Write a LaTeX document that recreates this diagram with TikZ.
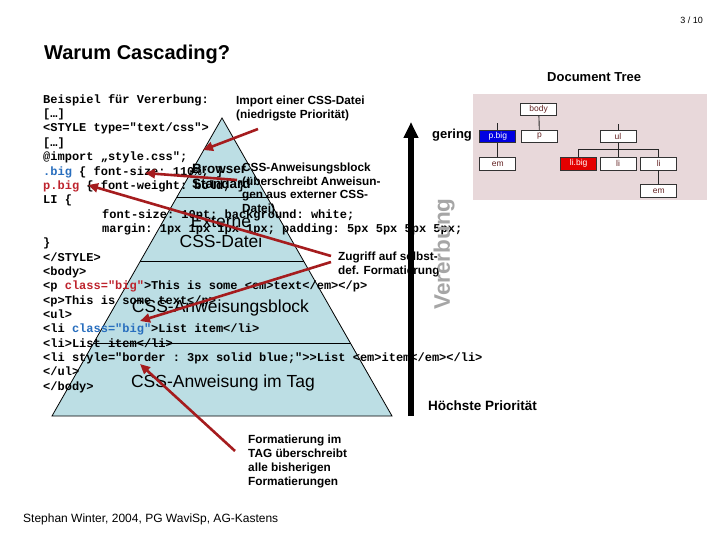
\documentclass[tikz,border=0pt]{standalone}
\usepackage{fontspec}
\setmainfont{Liberation Sans}
\newfontfamily\codefont{Liberation Mono}
\usetikzlibrary{arrows.meta,positioning}

\definecolor{pyrblue}{RGB}{188,222,228}
\definecolor{treebg}{RGB}{232,216,218}
\definecolor{arrowred}{RGB}{165,28,30}
\definecolor{codeblue}{RGB}{40,110,190}
\definecolor{codered}{RGB}{190,35,45}
\definecolor{treetext}{RGB}{100,35,35}
\definecolor{treeblue}{RGB}{0,0,225}
\definecolor{treered}{RGB}{228,0,0}

\tikzset{
  code/.style={anchor=base west, inner sep=0pt, font=\codefont\bfseries\frenchspacing\fontsize{12}{14}\selectfont},
  anno/.style={anchor=north west, inner sep=0pt, align=left, font=\bfseries\fontsize{11.8}{13.8}\selectfont},
  layer/.style={inner sep=0pt, font=\fontsize{17.5}{20}\selectfont},
  treebox/.style={draw=black!80, line width=0.8pt, fill=white, minimum width=36pt, minimum height=12.3pt, inner sep=0pt, font=\fontsize{8.5}{9}\selectfont, text=treetext},
  treeline/.style={draw=black!85, line width=0.9pt},
  pointer/.style={draw=arrowred, line width=2.6pt, -{Triangle[width=9pt,length=10pt]}},
}

\begin{document}
\begin{tikzpicture}[x=1pt,y=-1pt]
\useasboundingbox[fill=white] (0,0) rectangle (720,540);

% heading
\node[anchor=base west, inner sep=0pt, font=\bfseries\fontsize{20}{24}\selectfont] (title) at (44,60) {Warum Cascading?};
\node[anchor=base east, inner sep=0pt, font=\fontsize{9}{11}\selectfont] (page) at (703,24) {3 / 10};

% pyramid
\coordinate (apex) at (222,118);
\coordinate (bl) at (52,416);
\coordinate (br) at (392,416);
\fill[pyrblue] (apex) -- (br) -- (bl) -- cycle;
\begin{scope}
\clip (apex) -- (br) -- (bl) -- cycle;
\foreach \ly in {197,261,343}
  \draw[line width=0.8pt] (0,\ly) -- (720,\ly);
\end{scope}
\draw[line width=0.8pt] (apex) -- (br) -- (bl) -- cycle;

\node[anchor=north west, inner sep=0pt, align=left, font=\bfseries\fontsize{13.5}{15}\selectfont] (browser) at (192,164.5) {Browser\\Standard};
\node[layer, anchor=north, align=center] (extern) at (221,215.5) {Externe\\CSS-Datei};
\node[layer, anchor=base] (block) at (220.5,312) {CSS-Anweisungsblock};
\node[layer, anchor=base] (intag) at (223,387) {CSS-Anweisung im Tag};

% document tree
\node[anchor=base west, inner sep=0pt, font=\bfseries\fontsize{13}{15}\selectfont] (doctree) at (547,82) {Document Tree};
\fill[treebg] (473,94) rectangle (707,200);
\node[treebox] (body) at (538.7,109.2) {body};
\node[treebox, fill=treeblue, text=white] (pbig) at (497.8,136.2) {p.big};
\node[treebox] (p) at (539.5,136.2) {p};
\node[treebox] (ul) at (618,136.2) {ul};
\node[treebox] (em1) at (497.8,163.8) {em};
\node[treebox, fill=treered, text=white] (libig) at (578.7,163.8) {li.big};
\node[treebox] (li2) at (618,163.8) {li};
\node[treebox] (li3) at (658.7,163.8) {li};
\node[treebox] (em2) at (658.7,191) {em};
\coordinate (pbigstub) at (497.8,123);
\coordinate (ulstub) at (618,124.5);
\coordinate (fork) at (618,149.5);
\draw[treeline] (body) -- (p);
\draw[treeline] (pbig) -- (pbigstub);
\draw[treeline] (pbig) -- (em1);
\draw[treeline] (ul) -- (ulstub);
\draw[treeline] (ul) -- (li2);
\draw[treeline] (libig.north) |- (fork) -| (li3.north);
\draw[treeline] (li3) -- (em2);

% code
\node[code] (cl1) at (43,103.3) {Beispiel für Vererbung:};
\node[code] (cl2) at (43,117.65) {[…]};
\node[code] (cl3) at (43,132) {<STYLE type="text/css">};
\node[code] (cl4) at (43,146.35) {[…]};
\node[code] (cl5) at (43,160.7) {@import „style.css";};
\node[code] (cl6) at (43,175.05) {\textcolor{codeblue}{.big} \{ font-size: 110\%; \}};
\node[code] (cl7) at (43,189.4) {\textcolor{codered}{p.big} \{ font-weight: bold; \}};
\node[code] (cl8) at (43,203.75) {LI \{};
\node[code] (cl9) at (102,218.1) {font-size: 10pt; background: white;};
\node[code] (cl10) at (102,232.45) {margin: 1px 1px 1px 1px; padding: 5px 5px 5px 5px;};
\node[code] (cl11) at (43,246.8) {\}};
\node[code] (cl12) at (43,261.15) {</STYLE>};
\node[code] (cl13) at (43,275.5) {<body>};
\node[code] (cl14) at (43,289.85) {<p \textcolor{codered}{class="big"}>This is some <em>text</em></p>};
\node[code] (cl15) at (43,304.2) {<p>This is some text</p>};
\node[code] (cl16) at (43,318.55) {<ul>};
\node[code] (cl17) at (43,332.9) {<li \textcolor{codeblue}{class="big"}>List item</li>};
\node[code] (cl18) at (43,347.25) {<li>List item</li>};
\node[code] (cl19) at (43,361.6) {<li style="border : 3px solid blue;">>List <em>item</em></li>};
\node[code] (cl20) at (43,375.95) {</ul>};
\node[code] (cl21) at (43,390.3) {</body>};

% annotations
\node[anno] (imp) at (236,96) {Import einer CSS-Datei\\(niedrigste Priorität)};
\node[anno] (blk) at (242,162.5) {CSS-Anweisungsblock\\(überschreibt Anweisun-\\gen aus externer CSS-\\Datei)};
\node[anno] (zug) at (338,251.5) {Zugriff auf selbst-\\def. Formatierung};
\node[anno] (fmt) at (248,435) {Formatierung im\\TAG überschreibt\\alle bisherigen\\Formatierungen};
\node[anchor=base west, inner sep=0pt, font=\bfseries\fontsize{13}{15}\selectfont] (gering) at (432,139) {gering};
\node[anchor=base west, inner sep=0pt, font=\bfseries\fontsize{13.5}{15}\selectfont] (hoch) at (428,410) {Höchste Priorität};
\node[rotate=90, inner sep=0pt, text=black!35, font=\bfseries\fontsize{22.5}{24}\selectfont] (vererb) at (444,254) {Vererbung};

% priority arrow
\coordinate (low) at (411,416);
\coordinate (high) at (411,122);
\draw[line width=5.5pt, -{Triangle[width=14pt,length=16pt]}] (low) -- (high);

% red pointers
\coordinate (a1s) at (258,129);
\coordinate (a1e) at (203,150);
\coordinate (a2s) at (237,180);
\coordinate (a2e) at (145,173);
\coordinate (a3s) at (331,256);
\coordinate (a3e) at (88,185);
\coordinate (a4s) at (331,262);
\coordinate (a4e) at (140,321);
\coordinate (a5s) at (235,451);
\coordinate (a5e) at (140,364);
\draw[pointer] (a1s) -- (a1e);
\draw[pointer] (a2s) -- (a2e);
\draw[pointer] (a3s) -- (a3e);
\draw[pointer] (a4s) -- (a4e);
\draw[pointer] (a5s) -- (a5e);

% footer
\node[anchor=base west, inner sep=0pt, font=\fontsize{12}{13}\selectfont] (footer) at (23,522) {Stephan Winter, 2004, PG WaviSp, AG-Kastens};
\end{tikzpicture}
\end{document}
